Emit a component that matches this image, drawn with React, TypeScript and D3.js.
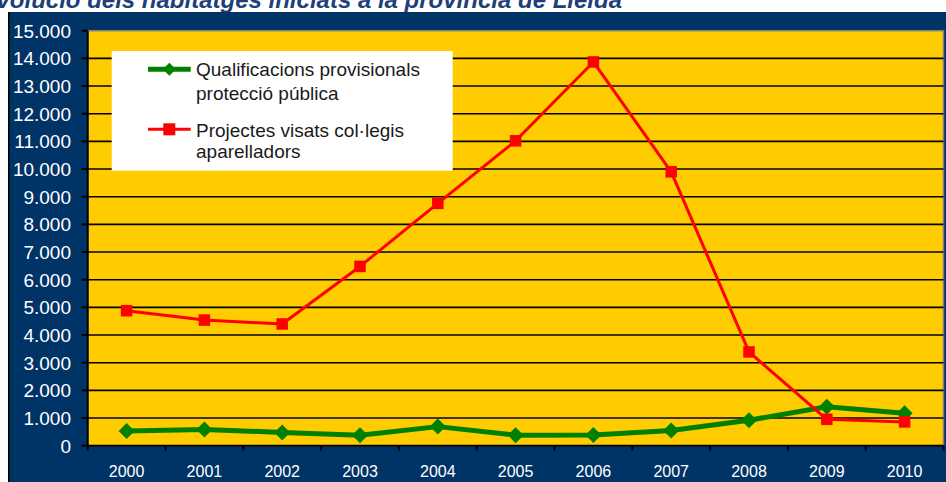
import React from "react";
import * as d3 from "d3";

const years = ["2000", "2001", "2002", "2003", "2004", "2005", "2006", "2007", "2008", "2009", "2010"];
const qualificacions = [530, 590, 480, 380, 690, 380, 390, 550, 920, 1410, 1170];
const projectes = [4880, 4540, 4400, 6480, 8760, 11020, 13870, 9900, 3390, 955, 860];
const seriesNames = ["Qualificacions provisionals|protecció pública", "Projectes visats col·legis|aparelladors"];
const yTicks = d3.range(0, 15001, 1000);
const title = "Evolució dels habitatges iniciats a la província de Lleida";

const W = 946;
const H = 482;
const plot = { left: 87.7, right: 943.5, top: 30.7, bottom: 445.7 };

const locale = d3.formatLocale({ decimal: ",", thousands: ".", grouping: [3], currency: ["", ""] });
const fmt = locale.format(",d");

export default function App() {
  const x = d3.scaleBand<string>().domain(years).range([plot.left, plot.right]);
  const y = d3.scaleLinear().domain([0, 15000]).range([plot.bottom, plot.top]);
  const cx = (d: string) => (x(d) as number) + x.bandwidth() / 2;
  const line = d3
    .line<number>()
    .x((_, i) => cx(years[i]))
    .y((v) => y(v));
  const diamond = (px: number, py: number, r: number) =>
    `M${px},${py - r}L${px + r},${py}L${px},${py + r}L${px - r},${py}Z`;

  const green = "#008000";
  const red = "#FF0000";
  const font = "Arial, 'Liberation Sans', sans-serif";

  return (
    <svg width={W} height={H} style={{ position: "absolute", left: 0, top: 0 }} fontFamily={font}>
      <rect x={0} y={0} width={W} height={H} fill="#ffffff" />
      <text x={622} y={7.6} textAnchor="end" fontSize={24} fontWeight="bold" fontStyle="italic" fill="#1F3F7A">
        {title}
      </text>
      <rect x={8} y={12} width={W - 8} height={H - 12} fill="#003366" />
      <line x1={8.8} x2={8.8} y1={12} y2={H} stroke="#000" strokeWidth={1.5} />
      <rect
        x={plot.left}
        y={plot.top}
        width={plot.right - plot.left}
        height={plot.bottom - plot.top}
        fill="#FFCC00"
        stroke="#808080"
        strokeWidth={1.5}
      />
      {yTicks
        .filter((t) => t > 0 && t < 15000)
        .map((t) => (
          <line key={"g" + t} x1={plot.left} x2={plot.right} y1={y(t)} y2={y(t)} stroke="#000" strokeWidth={1.6} />
        ))}
      <line x1={plot.left} x2={plot.left} y1={plot.top} y2={plot.bottom} stroke="#000" strokeWidth={2} />
      <line x1={plot.left} x2={plot.right} y1={plot.bottom} y2={plot.bottom} stroke="#000" strokeWidth={2} />
      {yTicks.map((t) => (
        <g key={"y" + t}>
          <line x1={plot.left - 6} x2={plot.left} y1={y(t)} y2={y(t)} stroke="#000" strokeWidth={2} />
          <text x={71} y={y(t)} dy="0.36em" textAnchor="end" fontSize={19} fill="#ffffff">
            {fmt(t)}
          </text>
        </g>
      ))}
      {years.map((yr) => (
        <line
          key={"xt" + yr}
          x1={x(yr) as number}
          x2={x(yr) as number}
          y1={plot.bottom}
          y2={plot.bottom + 5}
          stroke="#000"
          strokeWidth={2}
        />
      ))}
      <line x1={plot.right} x2={plot.right} y1={plot.bottom} y2={plot.bottom + 5} stroke="#000" strokeWidth={2} />
      {years.map((yr) => (
        <text key={"xl" + yr} x={cx(yr)} y={476.5} textAnchor="middle" fontSize={16} fill="#ffffff">
          {yr}
        </text>
      ))}

      <path d={line(qualificacions) || ""} fill="none" stroke={green} strokeWidth={5} strokeLinejoin="round" />
      {qualificacions.map((v, i) => (
        <path key={"gm" + i} d={diamond(cx(years[i]), y(v), 8)} fill={green} />
      ))}
      <path d={line(projectes) || ""} fill="none" stroke={red} strokeWidth={3} strokeLinejoin="round" />
      {projectes.map((v, i) => (
        <rect key={"rm" + i} x={cx(years[i]) - 5.75} y={y(v) - 5.75} width={11.5} height={11.5} fill={red} />
      ))}

      <g>
        <rect x={111.7} y={51} width={341} height={119.7} fill="#ffffff" />
        <line x1={148} x2={190.7} y1={69.3} y2={69.3} stroke={green} strokeWidth={5} />
        <path d={diamond(169.3, 69.3, 6.5)} fill={green} />
        <line x1={148} x2={190.7} y1={129.3} y2={129.3} stroke={red} strokeWidth={3} />
        <rect x={169.3 - 6} y={129.3 - 6} width={12} height={12} fill={red} />
        {seriesNames[0].split("|").map((s, i) => (
          <text key={"l0" + i} x={196} y={76 + i * 23.5} fontSize={19} fill="#1a1a1a">
            {s}
          </text>
        ))}
        {seriesNames[1].split("|").map((s, i) => (
          <text key={"l1" + i} x={196} y={136.5 + i * 21.5} fontSize={19} fill="#1a1a1a">
            {s}
          </text>
        ))}
      </g>
    </svg>
  );
}
